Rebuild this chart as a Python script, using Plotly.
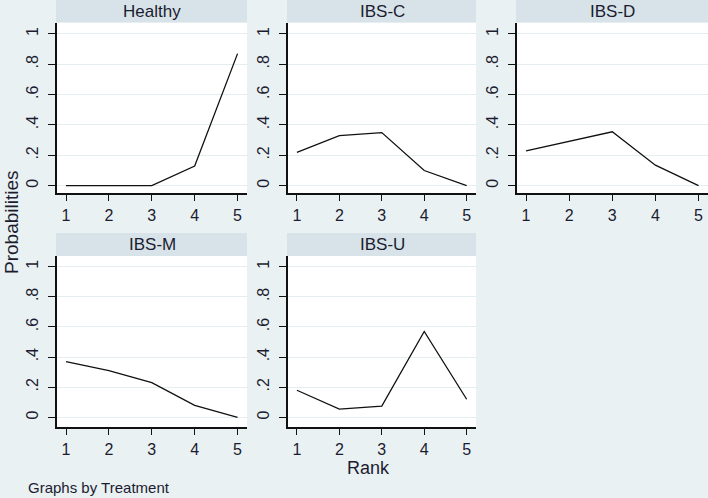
import plotly.graph_objects as go

W, H = 708, 498

ranks = [1, 2, 3, 4, 5]
treatments = ["Healthy", "IBS-C", "IBS-D", "IBS-M", "IBS-U"]
healthy = [0.0, 0.0, 0.0, 0.13, 0.87]
ibs_c = [0.22, 0.33, 0.35, 0.10, 0.0]
ibs_d = [0.23, 0.29, 0.355, 0.135, 0.0]
ibs_m = [0.37, 0.31, 0.23, 0.08, 0.0]
ibs_u = [0.18, 0.055, 0.075, 0.57, 0.12]
series = [healthy, ibs_c, ibs_d, ibs_m, ibs_u]
ytickvals = [0, 0.2, 0.4, 0.6, 0.8, 1]
yticktext = ["0", ".2", ".4", ".6", ".8", "1"]

BG = "#E9F1F3"
STRIP = "#D7E3E9"
GRID = "#E4EDF0"
TXT = "#1c1c30"
FONT = "Liberation Sans, Arial, sans-serif"

# pixel layout of panels (left, right) and rows (header top, plot top, plot bottom)
cols = [(57, 247), (288, 476), (517, 708)]
rows = [(0, 22.5, 193.3, [-0.05, 1.075]), (233, 256, 427.3, [-0.066, 1.071])]

def px(x):
    return x / W

def py(y):
    return 1 - y / H

fig = go.Figure()
shapes = []
annotations = []
for i, (name, vals) in enumerate(zip(treatments, series)):
    r, c = divmod(i, 3)
    x0, x1 = cols[c]
    htop, ptop, pbot, yr = rows[r]
    k = i + 1
    xa = "x" if k == 1 else f"x{k}"
    ya = "y" if k == 1 else f"y{k}"
    fig.add_trace(go.Scatter(x=ranks, y=vals, mode="lines",
                             line=dict(color="#111111", width=1.3),
                             xaxis=xa, yaxis=ya, showlegend=False))
    xkey = "xaxis" if k == 1 else f"xaxis{k}"
    ykey = "yaxis" if k == 1 else f"yaxis{k}"
    fig.layout[xkey] = dict(domain=[px(x0), px(x1)], anchor=ya, range=[0.79, 5.22],
                            tickvals=ranks, showgrid=False, zeroline=False,
                            showline=True, linecolor="#111111", linewidth=1.5,
                            ticks="outside", ticklen=6, tickcolor="#111111", tickwidth=1.3,
                            ticklabelstandoff=1,
                            tickfont=dict(size=16, color=TXT, family=FONT), fixedrange=True)
    fig.layout[ykey] = dict(domain=[py(pbot), py(ptop)], anchor=xa, range=yr,
                            tickvals=ytickvals, ticktext=yticktext, tickangle=-90,
                            showgrid=True, gridcolor=GRID, gridwidth=1.2, zeroline=False,
                            showline=True, linecolor="#111111", linewidth=1.5,
                            ticks="outside", ticklen=7, tickcolor="#111111", tickwidth=1.3,
                            ticklabelstandoff=4,
                            tickfont=dict(size=16, color=TXT, family=FONT), fixedrange=True)
    shapes.append(dict(type="rect", xref="paper", yref="paper",
                       x0=px(x0 - 1), x1=px(x1), y0=py(ptop), y1=py(htop),
                       fillcolor=STRIP, line=dict(width=0), layer="below"))
    annotations.append(dict(text=name, xref="paper", yref="paper",
                            x=px((x0 + x1) / 2), y=py((htop + ptop) / 2),
                            xanchor="center", yanchor="middle", showarrow=False,
                            font=dict(size=17, color=TXT, family=FONT)))

annotations.append(dict(text="Probabilities", xref="paper", yref="paper",
                        x=px(11), y=py(222), textangle=-90, showarrow=False,
                        xanchor="center", yanchor="middle",
                        font=dict(size=19, color=TXT, family=FONT)))
annotations.append(dict(text="Rank", xref="paper", yref="paper",
                        x=px(368), y=py(468), showarrow=False,
                        xanchor="center", yanchor="middle",
                        font=dict(size=18, color=TXT, family=FONT)))
annotations.append(dict(text="Graphs by Treatment", xref="paper", yref="paper",
                        x=px(26), y=py(487), showarrow=False,
                        xanchor="left", yanchor="middle",
                        font=dict(size=15, color=TXT, family=FONT)))

fig.update_layout(width=W, height=H, margin=dict(l=0, r=0, t=0, b=0),
                  paper_bgcolor=BG, plot_bgcolor="white",
                  shapes=shapes, annotations=annotations, showlegend=False)

fig.write_html("out.html", config={"displayModeBar": False},
               post_script="document.body.style.margin='0px';document.body.style.overflow='hidden';document.body.style.background='" + BG + "';")
